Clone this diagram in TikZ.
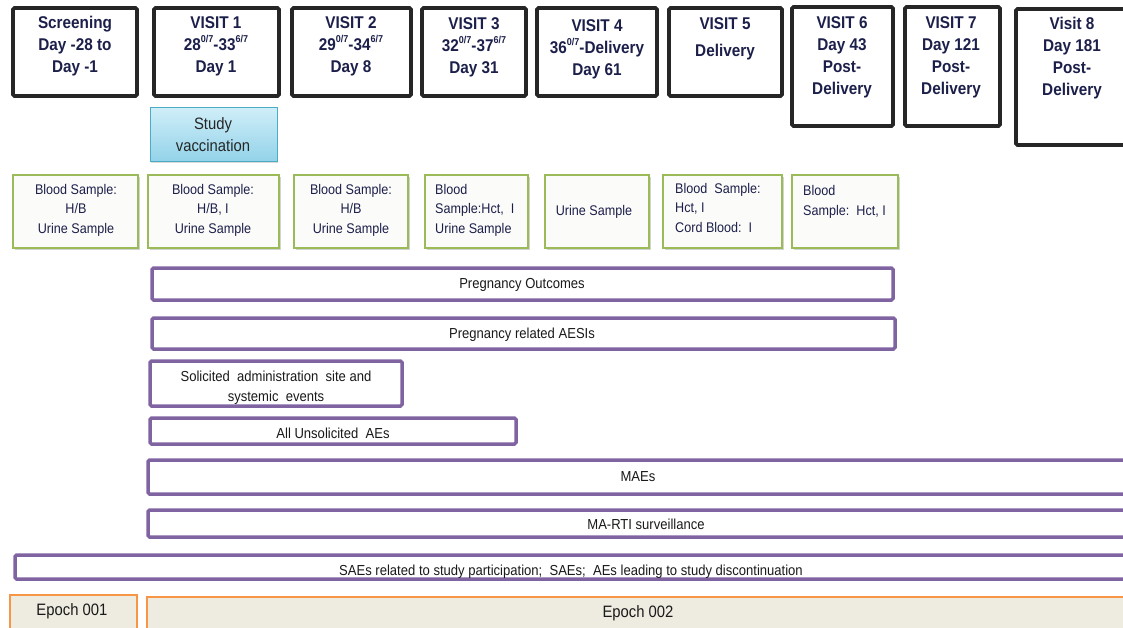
\documentclass[tikz,border=0pt]{standalone}
\usepackage{fontspec}
\setmainfont{Liberation Sans}[FakeStretch=0.9]
\usetikzlibrary{shadows}
\definecolor{boxgray}{HTML}{262626}
\definecolor{navy}{HTML}{1C1F4A}
\definecolor{sgreen}{HTML}{9BBB59}
\definecolor{purp}{HTML}{8064A2}
\definecolor{eorange}{HTML}{F79646}
\definecolor{ebeige}{HTML}{EEECE1}
\definecolor{vborder}{HTML}{4BACC6}
\definecolor{vtop}{HTML}{CFEEF8}
\definecolor{vbot}{HTML}{92D2E9}
\definecolor{sfill}{HTML}{FBFBF9}
\newcommand{\rbox}[6]{\node[#2, minimum width={(#5-#3)*1pt}, minimum height={(#6-#4)*1pt}] (#1) at ({(#3+#5)/2},{(#4+#6)/2}) {};}
\newcommand{\sps}[1]{\raisebox{0.45em}{\fontsize{10}{10}\selectfont #1}}
\tikzset{
  visitbox/.style={draw=boxgray, line width=3.6pt, rounded corners=1.5pt, fill=white, inner sep=0pt,
    drop shadow={shadow xshift=1pt, shadow yshift=-1.5pt, opacity=0.25}},
  visittext/.style={font=\fontsize{17}{22}\selectfont\bfseries, text=navy, align=center, inner sep=0pt, anchor=north},
  vaccbox/.style={draw=vborder, line width=1pt, top color=vtop, bottom color=vbot, inner sep=0pt,
    drop shadow={shadow xshift=1pt, shadow yshift=-1.5pt, opacity=0.3}},
  vacctext/.style={font=\fontsize{16.5}{22}\selectfont, text=black!85, align=center, inner sep=0pt, anchor=north},
  samplebox/.style={draw=sgreen, line width=1.5pt, fill=sfill, inner sep=0pt,
    drop shadow={shadow xshift=1.5pt, shadow yshift=-2pt, opacity=0.35}},
  sampletext/.style={font=\fontsize{14}{19.5}\selectfont, text=navy, inner sep=0pt},
  bar/.style={draw=purp, line width=3.5pt, rounded corners=1.5pt, inner sep=0pt},
  bartext/.style={font=\fontsize{14.5}{20}\selectfont, text=black!90, inner sep=0pt},
  epochbox/.style={draw=eorange, line width=1.2pt, fill=ebeige, inner sep=0pt},
  epochtext/.style={font=\fontsize{16.5}{20}\selectfont, text=black!90, inner sep=0pt, anchor=base}
}
\begin{document}
\begin{tikzpicture}[x=1pt,y=-1pt]
\useasboundingbox (0,0) rectangle (1123,628);
\clip (0,0) rectangle (1123,628);
% visit boxes
\rbox{scr}{visitbox}{13}{8}{137}{96}
\rbox{v1}{visitbox}{154}{8}{279}{96}
\rbox{v2}{visitbox}{292}{8}{411}{96}
\rbox{v3}{visitbox}{422}{8}{526}{96}
\rbox{v4}{visitbox}{537}{8}{657}{96}
\rbox{v5}{visitbox}{669}{8}{782}{96}
\rbox{v6}{visitbox}{792}{7}{893}{126}
\rbox{v7}{visitbox}{905}{7}{1000}{126}
\rbox{v8}{visitbox}{1016}{9}{1145}{145}
\node[visittext] (tscr) at (75,16) {Screening\\Day -28 to\\Day -1};
\node[visittext] (tv1) at (216,16) {VISIT 1\\28\sps{0/7}-33\sps{6/7}\\Day 1};
\node[visittext] (tv2) at (351,16) {VISIT 2\\29\sps{0/7}-34\sps{6/7}\\Day 8};
\node[visittext] (tv3) at (474,17) {VISIT 3\\32\sps{0/7}-37\sps{6/7}\\Day 31};
\node[visittext] (tv4) at (597,19) {VISIT 4\\36\sps{0/7}-Delivery\\Day 61};
\node[visittext, font=\fontsize{17}{27}\selectfont\bfseries] (tv5) at (725,17) {VISIT 5\\Delivery};
\node[visittext] (tv6) at (842,16) {VISIT 6\\Day 43\\Post-\\Delivery};
\node[visittext] (tv7) at (951,16) {VISIT 7\\Day 121\\Post-\\Delivery};
\node[visittext] (tv8) at (1072,17) {Visit 8\\Day 181\\Post-\\Delivery};
% vaccination
\rbox{vac}{vaccbox}{150}{108}{277}{162}
\node[vacctext] (tvac) at (213,117) {Study\\vaccination};
% sample boxes
\rbox{s1}{samplebox}{13}{175}{138}{248}
\rbox{s2}{samplebox}{148}{175}{279}{248}
\rbox{s3}{samplebox}{294}{175}{408}{248}
\rbox{s4}{samplebox}{425}{175}{528}{248}
\rbox{s5}{samplebox}{545}{175}{649}{248}
\rbox{s6}{samplebox}{663}{175}{782}{248}
\rbox{s7}{samplebox}{792}{175}{898}{248}
\node[sampletext, align=center, anchor=north] (ts1) at (76,184) {Blood\ Sample:\\H/B\\Urine Sample};
\node[sampletext, align=center, anchor=north] (ts2) at (213,184) {Blood\ Sample:\\H/B, I\\Urine Sample};
\node[sampletext, align=center, anchor=north] (ts3) at (351,184) {Blood\ Sample:\\H/B\\Urine Sample};
\node[sampletext, align=left, anchor=north west] (ts4) at (435,184) {Blood\\Sample:Hct,\ \ I\\Urine Sample};
\node[sampletext, anchor=base] (ts5) at (594,215) {Urine Sample};
\node[sampletext, align=left, anchor=north west] (ts6) at (675,183) {Blood\ \ Sample:\\Hct,\ I\\Cord Blood:\ \ I};
\node[sampletext, align=left, anchor=north west, font=\fontsize{14}{20}\selectfont] (ts7) at (803,185) {Blood\\Sample:\ \ Hct,\ I};
% purple bars
\rbox{po}{bar}{152}{268}{893}{300}
\rbox{aesi}{bar}{152}{318}{895}{349}
\rbox{sol}{bar}{150}{361}{402}{406}
\rbox{unsol}{bar}{150}{418}{516}{444}
\rbox{maes}{bar}{148}{460}{1145}{494}
\rbox{rti}{bar}{148}{510}{1145}{537}
\rbox{saes}{bar}{15}{555}{1145}{579}
\node[bartext, anchor=base] (tpo) at (522,288.2) {Pregnancy Outcomes};
\node[bartext, anchor=base] (taesi) at (522,338.2) {Pregnancy related AESIs};
\node[bartext, align=center, anchor=north] (tsol) at (276,370.8) {Solicited\ \ administration\ \ site and\\systemic\ \ events};
\node[bartext, anchor=base] (tunsol) at (333,438.2) {All Unsolicited\ \ AEs};
\node[bartext, anchor=base] (tmaes) at (638,481.2) {MAEs};
\node[bartext, anchor=base] (trti) at (646,529.2) {MA-RTI surveillance};
\node[bartext, anchor=base] (tsaes) at (571,575.2) {SAEs related to study participation;\ \ SAEs;\ \ AEs leading to study discontinuation};
% epochs
\rbox{e1}{epochbox}{10}{595}{137}{640}
\rbox{e2}{epochbox}{147}{597}{1145}{640}
\node[epochtext] (te1) at (72,615.9) {Epoch 001};
\node[epochtext] (te2) at (638,617.9) {Epoch 002};
\end{tikzpicture}
\end{document}
